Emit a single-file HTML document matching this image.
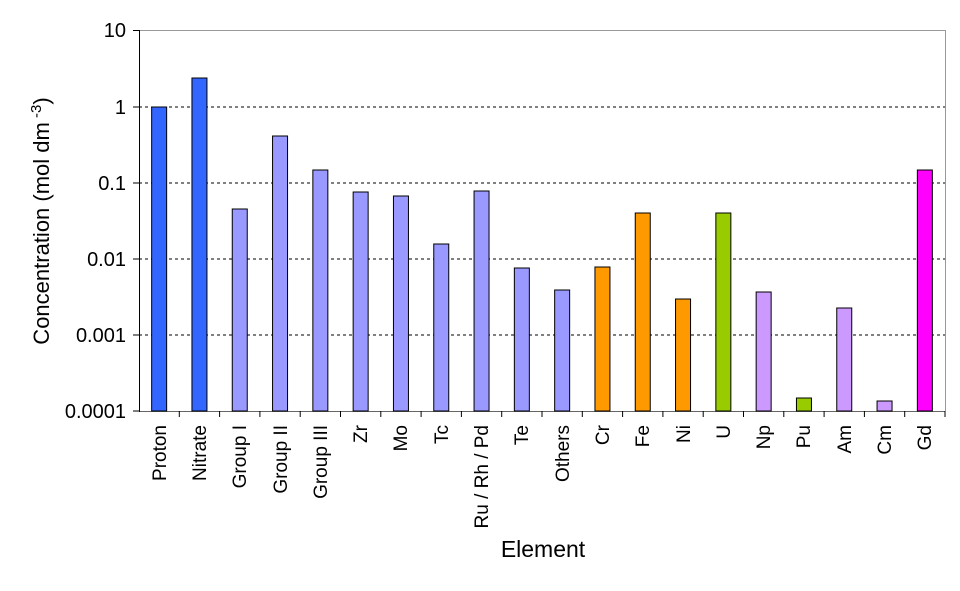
<!DOCTYPE html>
<html><head><style>body{margin:0;background:#fff}</style></head><body>
<svg width="960" height="586" xmlns="http://www.w3.org/2000/svg" font-family="Liberation Sans, Arial, sans-serif">
<rect width="960" height="586" fill="#fff"/>
<g stroke="#000" stroke-dasharray="3,3" stroke-width="1">
<line x1="139" x2="945" y1="107" y2="107"/>
<line x1="139" x2="945" y1="183" y2="183"/>
<line x1="139" x2="945" y1="259" y2="259"/>
<line x1="139" x2="945" y1="335" y2="335"/>
</g>
<line x1="139" x2="945" y1="30.5" y2="30.5" stroke="#999"/>
<line x1="945.5" x2="945.5" y1="30" y2="411" stroke="#999"/>
<g stroke="#000" stroke-width="1">
<line x1="139" y1="411.5" x2="945" y2="411.5" stroke="#666"/>
<line x1="139.5" y1="30" x2="139.5" y2="412"/>
<line x1="133" x2="139" y1="30.5" y2="30.5"/><line x1="133" x2="139" y1="107" y2="107"/>
<line x1="133" x2="139" y1="183" y2="183"/><line x1="133" x2="139" y1="259" y2="259"/>
<line x1="133" x2="139" y1="335" y2="335"/><line x1="133" x2="139" y1="411" y2="411"/>
</g>
<g font-size="20" text-anchor="end">
<text x="126" y="37">10</text><text x="126" y="114">1</text><text x="126" y="190">0.1</text>
<text x="126" y="266">0.01</text><text x="126" y="342">0.001</text><text x="126" y="418">0.0001</text>
</g>
<g stroke="#000" stroke-width="1">
<rect x="151.65" y="107" width="15" height="304" fill="#3366ff"/>
<rect x="191.95" y="78" width="15" height="333" fill="#3366ff"/>
<rect x="232.25" y="209" width="15" height="202" fill="#9999ff"/>
<rect x="272.55" y="136" width="15" height="275" fill="#9999ff"/>
<rect x="312.85" y="170" width="15" height="241" fill="#9999ff"/>
<rect x="353.15" y="192" width="15" height="219" fill="#9999ff"/>
<rect x="393.45" y="196" width="15" height="215" fill="#9999ff"/>
<rect x="433.75" y="244" width="15" height="167" fill="#9999ff"/>
<rect x="474.05" y="191" width="15" height="220" fill="#9999ff"/>
<rect x="514.35" y="268" width="15" height="143" fill="#9999ff"/>
<rect x="554.65" y="290" width="15" height="121" fill="#9999ff"/>
<rect x="594.95" y="267" width="15" height="144" fill="#ff9900"/>
<rect x="635.25" y="213" width="15" height="198" fill="#ff9900"/>
<rect x="675.55" y="299" width="15" height="112" fill="#ff9900"/>
<rect x="715.85" y="213" width="15" height="198" fill="#99cc00"/>
<rect x="756.15" y="292" width="15" height="119" fill="#cc99ff"/>
<rect x="796.45" y="398" width="15" height="13" fill="#99cc00"/>
<rect x="836.75" y="308" width="15" height="103" fill="#cc99ff"/>
<rect x="877.05" y="401" width="15" height="10" fill="#cc99ff"/>
<rect x="917.35" y="170" width="15" height="241" fill="#ff00ff"/>
</g>
<g stroke="#000">
<line x1="179.3" x2="179.3" y1="411" y2="417"/><line x1="219.6" x2="219.6" y1="411" y2="417"/>
<line x1="259.9" x2="259.9" y1="411" y2="417"/><line x1="300.2" x2="300.2" y1="411" y2="417"/>
<line x1="340.5" x2="340.5" y1="411" y2="417"/><line x1="380.8" x2="380.8" y1="411" y2="417"/>
<line x1="421.1" x2="421.1" y1="411" y2="417"/><line x1="461.4" x2="461.4" y1="411" y2="417"/>
<line x1="501.7" x2="501.7" y1="411" y2="417"/><line x1="542" x2="542" y1="411" y2="417"/>
<line x1="582.3" x2="582.3" y1="411" y2="417"/><line x1="622.6" x2="622.6" y1="411" y2="417"/>
<line x1="662.9" x2="662.9" y1="411" y2="417"/><line x1="703.2" x2="703.2" y1="411" y2="417"/>
<line x1="743.5" x2="743.5" y1="411" y2="417"/><line x1="783.8" x2="783.8" y1="411" y2="417"/>
<line x1="824.1" x2="824.1" y1="411" y2="417"/><line x1="864.4" x2="864.4" y1="411" y2="417"/>
<line x1="904.7" x2="904.7" y1="411" y2="417"/><line x1="945" x2="945" y1="411" y2="417"/>
</g>
<g font-size="19" text-anchor="end">
<text transform="translate(166,425) rotate(-90)">Proton</text>
<text transform="translate(206,425) rotate(-90)">Nitrate</text>
<text transform="translate(246,425) rotate(-90)">Group I</text>
<text transform="translate(287,425) rotate(-90)">Group II</text>
<text transform="translate(327,425) rotate(-90)">Group III</text>
<text transform="translate(367,425) rotate(-90)">Zr</text>
<text transform="translate(407,425) rotate(-90)">Mo</text>
<text transform="translate(448,425) rotate(-90)">Tc</text>
<text transform="translate(488,425) rotate(-90)">Ru / Rh / Pd</text>
<text transform="translate(528,425) rotate(-90)">Te</text>
<text transform="translate(569,425) rotate(-90)">Others</text>
<text transform="translate(609,425) rotate(-90)">Cr</text>
<text transform="translate(649,425) rotate(-90)">Fe</text>
<text transform="translate(690,425) rotate(-90)">Ni</text>
<text transform="translate(730,425) rotate(-90)">U</text>
<text transform="translate(770,425) rotate(-90)">Np</text>
<text transform="translate(810,425) rotate(-90)">Pu</text>
<text transform="translate(851,425) rotate(-90)">Am</text>
<text transform="translate(891,425) rotate(-90)">Cm</text>
<text transform="translate(931,425) rotate(-90)">Gd</text>
</g>
<text x="543" y="557" font-size="23" text-anchor="middle">Element</text>
<text transform="translate(49,221) rotate(-90)" font-size="22" text-anchor="middle">Concentration (mol dm<tspan dy="-8" font-size="15"> -3</tspan><tspan dy="8">)</tspan></text>
</svg>
</body></html>
